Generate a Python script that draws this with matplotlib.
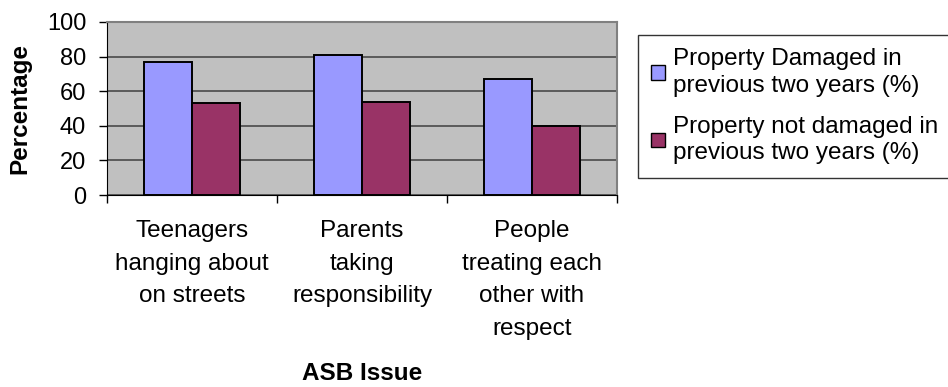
import numpy as np
import matplotlib
matplotlib.use("Agg")
import matplotlib.pyplot as plt

# values
categories = ["Teenagers\nhanging about\non streets",
              "Parents\ntaking\nresponsibility",
              "People\ntreating each\nother with\nrespect"]
damaged = [77, 81, 67]
not_damaged = [53, 54, 40]
series_labels = ["Property Damaged in\nprevious two years (%)",
                 "Property not damaged in\nprevious two years (%)"]
yticks = [0, 20, 40, 60, 80, 100]

plt.rcParams['font.family'] = ['Liberation Sans', 'DejaVu Sans']
FS = 17.5

fig = plt.figure(figsize=(9.48, 3.87), dpi=100)
W, H = 948, 387
# axes box in pixels: left 107, right 617, top 22, bottom 195
ax = fig.add_axes([107 / W, 1 - 195 / H, (617 - 107) / W, (195 - 22) / H])
ax.set_facecolor('#C0C0C0')

x = np.arange(len(categories))
bw = 0.285
b1 = ax.bar(x - bw / 2, damaged, bw, color='#9999FF', edgecolor='black', linewidth=1.4, zorder=3)
b2 = ax.bar(x + bw / 2, not_damaged, bw, color='#993366', edgecolor='black', linewidth=1.4, zorder=3)

ax.set_xlim(-0.5, len(categories) - 0.5)
ax.set_ylim(0, 100)
ax.set_yticks(yticks)
ax.yaxis.grid(True, color='#404040', linewidth=1.1, zorder=1)
ax.set_axisbelow(True)

# category labels centred, ticks on the boundaries
ax.set_xticks(np.arange(len(categories) + 1) - 0.5)
ax.set_xticklabels([])
ax.set_xticks(x, minor=True)
ax.set_xticklabels(categories, minor=True, fontsize=FS, linespacing=1.63, va='top')
ax.tick_params(axis='x', which='minor', length=0, pad=18)
ax.tick_params(axis='x', which='major', length=6, width=1, direction='out')
ax.tick_params(axis='y', length=6, width=1, direction='out', labelsize=FS - 0.5, pad=9)

for s in ['top', 'right']:
    ax.spines[s].set_color('#808080')
    ax.spines[s].set_linewidth(1.5)
for s in ['left', 'bottom']:
    ax.spines[s].set_color('black')

ax.set_ylabel('Percentage', fontsize=FS, fontweight='bold', labelpad=11)
ax.set_xlabel('ASB Issue', fontsize=FS, fontweight='bold')
# x label sits near the bottom edge, as in the reference
ax.xaxis.set_label_coords(0.5, -(362 - 195) / 173)

leg = fig.legend([b1, b2], series_labels,
                 loc='upper left',
                 bbox_to_anchor=(638 / W, 1 - 179 / H, (960 - 638) / W, (179 - 35) / H),
                 mode='expand', borderaxespad=0, fontsize=FS, frameon=True,
                 fancybox=False, edgecolor='black', handlelength=0.55, handleheight=0.55,
                 handletextpad=0.35, labelspacing=0.8, borderpad=0.55)
leg.get_frame().set_linewidth(1.0)
for t in leg.get_texts():
    t.set_linespacing(1.25)
for h in leg.legend_handles:
    h.set_linewidth(1.0)

fig.savefig('out.png', dpi=100)
